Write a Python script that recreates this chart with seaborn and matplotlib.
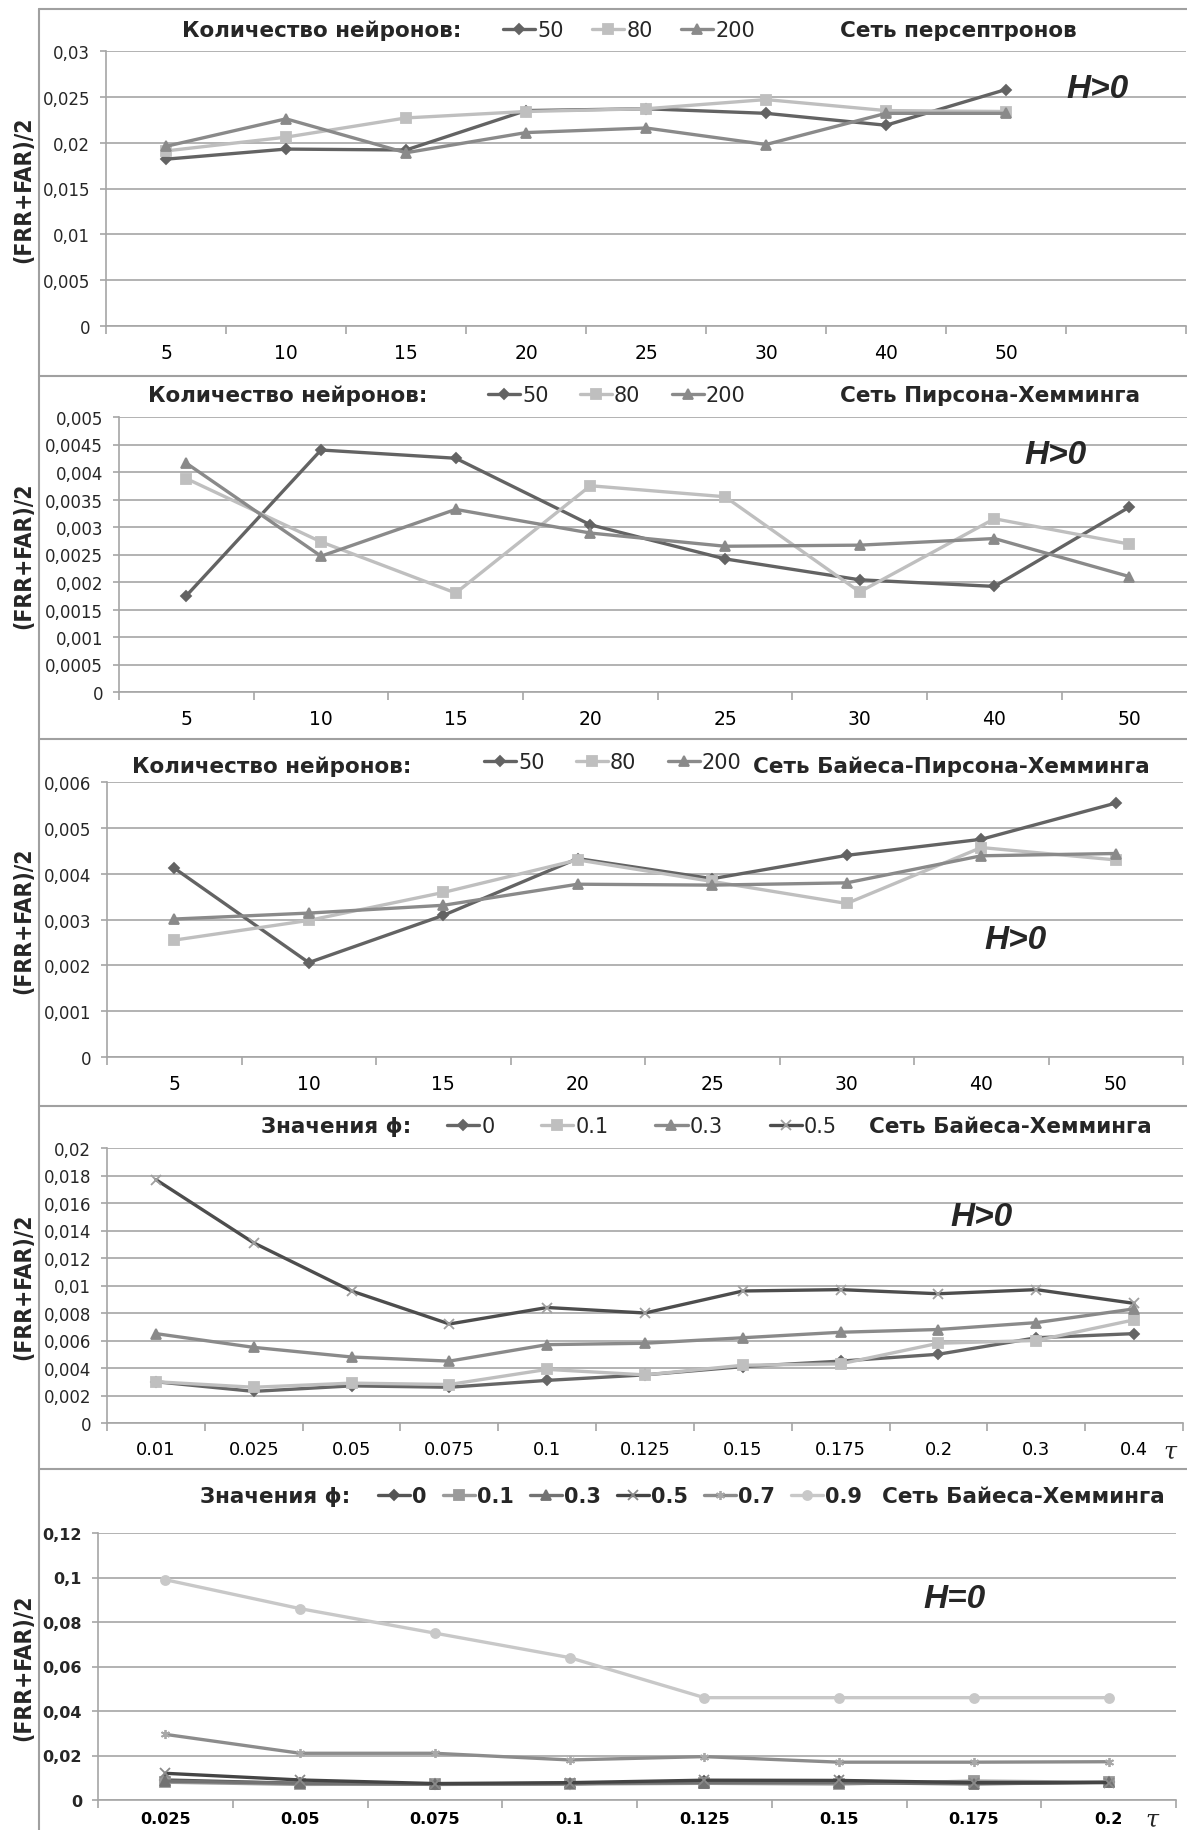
import numpy as np
import pandas as pd
import matplotlib
matplotlib.use("Agg")
import matplotlib.pyplot as plt
from matplotlib import font_manager
import seaborn as sns
from matplotlib.lines import Line2D
from matplotlib.ticker import FixedLocator

# ---------------- data ----------------
neurons = ["50", "80", "200"]
nn_cats = ["5", "10", "15", "20", "25", "30", "40", "50"]

perc_50 = [0.0182, 0.0193, 0.0192, 0.0235, 0.0237, 0.0232, 0.0219, 0.0258]
perc_80 = [0.0191, 0.0206, 0.0227, 0.0234, 0.0237, 0.0247, 0.0235, 0.0234]
perc_200 = [0.0196, 0.0226, 0.0189, 0.0211, 0.0216, 0.0198, 0.0232, 0.0232]

ph_50 = [0.00175, 0.0044, 0.00425, 0.00304, 0.00242, 0.00204, 0.00192, 0.00336]
ph_80 = [0.00388, 0.00273, 0.0018, 0.00375, 0.00355, 0.00182, 0.00315, 0.00269]
ph_200 = [0.00416, 0.00247, 0.00332, 0.00289, 0.00265, 0.00267, 0.00279, 0.0021]

bph_50 = [0.00412, 0.00206, 0.00309, 0.00433, 0.00389, 0.0044, 0.00475, 0.00554]
bph_80 = [0.00255, 0.00298, 0.00359, 0.0043, 0.00383, 0.00335, 0.00457, 0.0043]
bph_200 = [0.00301, 0.00314, 0.00331, 0.00377, 0.00375, 0.0038, 0.00439, 0.00444]

tau_h = ["0.01", "0.025", "0.05", "0.075", "0.1", "0.125", "0.15", "0.175", "0.2", "0.3", "0.4"]
phi_h = ["0", "0.1", "0.3", "0.5"]
bh_0 = [0.0030, 0.0023, 0.0027, 0.0026, 0.0031, 0.0035, 0.0041, 0.0045, 0.0050, 0.0062, 0.0065]
bh_01 = [0.0030, 0.0026, 0.0029, 0.0028, 0.0039, 0.0035, 0.0042, 0.0043, 0.0058, 0.0060, 0.0075]
bh_03 = [0.0065, 0.0055, 0.0048, 0.0045, 0.0057, 0.0058, 0.0062, 0.0066, 0.0068, 0.0073, 0.0083]
bh_05 = [0.0177, 0.0131, 0.0096, 0.0072, 0.0084, 0.0080, 0.0096, 0.0097, 0.0094, 0.0097, 0.0087]

tau_0 = ["0.025", "0.05", "0.075", "0.1", "0.125", "0.15", "0.175", "0.2"]
phi_0 = ["0", "0.1", "0.3", "0.5", "0.7", "0.9"]
b0_0 = [0.0090, 0.0075, 0.0070, 0.0072, 0.0085, 0.0085, 0.0075, 0.0080]
b0_01 = [0.0080, 0.0070, 0.0072, 0.0072, 0.0075, 0.0072, 0.0085, 0.0080]
b0_03 = [0.0085, 0.0075, 0.0072, 0.0075, 0.0078, 0.0078, 0.0072, 0.0080]
b0_05 = [0.0120, 0.0090, 0.0074, 0.0078, 0.0089, 0.0088, 0.0078, 0.0078]
b0_07 = [0.0295, 0.0210, 0.0210, 0.0180, 0.0195, 0.0170, 0.0170, 0.0172]
b0_09 = [0.0990, 0.0860, 0.0750, 0.0640, 0.0460, 0.0460, 0.0460, 0.0460]

# ---------------- style ----------------
W, H = 1187, 1831
sns.set_theme(style="white")
plt.rcParams["font.family"] = ["DejaVu Sans"]

# y-axis title: a condensed bold face if one is installed
YLAB_KW = {"family": "DejaVu Sans", "fontsize": 15}
_cond = [f for f in font_manager.fontManager.ttflist
         if f.name in ("Liberation Sans Narrow", "DejaVu Sans")
         and "ondensed" in f.fname and "Bold" in f.fname
         and "Oblique" not in f.fname]
_narrow = [f for f in font_manager.fontManager.ttflist
           if f.name == "Liberation Sans Narrow"]
if _narrow:
    YLAB_KW = {"family": "Liberation Sans Narrow", "fontsize": 20}
elif _cond:
    YLAB_KW = {"fontproperties": font_manager.FontProperties(
        fname=_cond[0].fname, size=16.5)}

fig = plt.figure(figsize=(W / 100, H / 100), dpi=100)
fig.patch.set_facecolor("white")

GRID = "#a6a6a6"


def px(x, y):
    return (x / W, 1 - y / H)


def rect(left, right, top, bottom):
    return [left / W, 1 - bottom / H, (right - left) / W, (bottom - top) / H]


def make_df(cats, series_names, series_vals):
    rows = []
    for name, vals in zip(series_names, series_vals):
        for i, v in enumerate(vals):
            rows.append({"pos": i, "cat": cats[i], "series": name, "val": v})
    return pd.DataFrame(rows)


def fmt(v):
    s = f"{np.round(v, 6):g}"
    return s.replace(".", ",")


def style_line(ln, name, markers, mec):
    c = ln.get_color()
    m = markers[name]
    ln.set_marker(m)
    ln.set_markersize(5.5 if m == "D" else 6.5)
    col = mec.get(name, c) if mec else c
    ln.set_markeredgecolor(col)
    ln.set_markerfacecolor(col)
    ln.set_markeredgewidth(1.3)
    ln.set_linewidth(2.4)


def panel(r, cats, names, vals, palette, markers, yticks, xlim,
          leg_anchor, leg_fs, leg_bold, header, header_x, hdr_y, net, net_x,
          hlabel, hpos, xfs, yfs, xbold=False, ybold=False, tau=None,
          colsp=1.4, mec=None, xpad=12):
    ax = fig.add_axes(rect(*r))
    df = make_df(cats, names, vals)
    sns.lineplot(data=df, x="pos", y="val", hue="series",
                 hue_order=names, palette=palette, sort=False, lw=2.4,
                 ax=ax, legend=True)
    for ln, name in zip(ax.lines, names):
        style_line(ln, name, markers, mec)
    ax.set_xlim(*xlim)
    ax.set_ylim(yticks[0], yticks[-1])
    ax.set_yticks(yticks)
    ax.set_yticklabels([fmt(v) for v in yticks], fontsize=yfs,
                       fontweight="bold" if ybold else "normal")
    ax.set_xticks(range(len(cats)))
    ax.set_xticklabels(cats, fontsize=xfs,
                       fontweight="bold" if xbold else "normal")
    ax.xaxis.set_minor_locator(FixedLocator(np.arange(-0.5, len(cats) + 1.5, 1)))
    ax.tick_params(axis="x", which="major", length=0, pad=xpad, colors="black")
    ax.tick_params(axis="x", which="minor", length=6, width=1.2,
                   color=GRID, direction="out", bottom=True)
    ax.tick_params(axis="y", which="major", length=4.5, width=1.2,
                   color=GRID, direction="out", pad=7, left=True)
    ax.set_xlabel("")
    ax.set_ylabel("")
    ax.yaxis.grid(True, color=GRID, lw=1.2)
    ax.xaxis.grid(False)
    for s in ["top", "right"]:
        ax.spines[s].set_visible(False)
    for s in ["left", "bottom"]:
        ax.spines[s].set_color(GRID)
        ax.spines[s].set_linewidth(1.2)
    ax.patch.set_alpha(0)

    # legend
    old = ax.get_legend()
    handles = old.legend_handles
    labels = [t.get_text() for t in old.get_texts()]
    old.remove()
    for hd, lab in zip(handles, labels):
        style_line(hd, lab, markers, mec)
    prop = {"size": leg_fs, "weight": "bold" if leg_bold else "normal"}
    ax.legend(handles, labels, loc="center left",
              bbox_to_anchor=px(*leg_anchor), bbox_transform=fig.transFigure,
              ncol=len(names), frameon=False, prop=prop, handlelength=1.54,
              handletextpad=0.1, columnspacing=colsp, borderpad=0,
              borderaxespad=0)

    fig.text(*px(header_x, hdr_y), header, ha="left", va="center",
             fontsize=15.5, fontweight="bold")
    fig.text(*px(net_x, hdr_y), net, ha="left", va="center",
             fontsize=15.5, fontweight="bold")
    fig.text(*px(*hpos), hlabel, ha="center", va="center", fontsize=24,
             fontweight="bold", fontstyle="italic", family="Liberation Sans")
    fig.text(*px(24, (r[2] + r[3]) / 2), "(FRR+FAR)/2", rotation=90,
             ha="center", va="center", fontweight="bold", **YLAB_KW)
    if tau:
        fig.text(*px(*tau), "τ", ha="center", va="center", fontsize=17,
                 fontstyle="italic", family="DejaVu Serif")
    return ax


pal_n = {"50": "#636363", "80": "#bfbfbf", "200": "#8a8a8a"}
mk_n = {"50": "D", "80": "s", "200": "^"}

# Panel 1
panel((106, 1186, 52, 327), nn_cats, neurons, [perc_50, perc_80, perc_200],
      pal_n, mk_n, [0, 0.005, 0.01, 0.015, 0.02, 0.025, 0.03], (-0.5, 8.5),
      (503, 31), 15, False, "Количество нейронов:", 182, 31,
      "Сеть персептронов", 840, "H>0", (1098, 90), 13.5, 12, colsp=1.37)

# Panel 2
panel((119, 1187, 418, 693), nn_cats, neurons, [ph_50, ph_80, ph_200],
      pal_n, mk_n, list(np.arange(0, 0.00501, 0.0005)), (-0.5, 7.43),
      (488, 396), 15, False, "Количество нейронов:", 148, 396,
      "Сеть Пирсона-Хемминга", 840, "H>0", (1056, 456), 13.5, 12, colsp=1.5)

# Panel 3
panel((107, 1183, 783, 1058), nn_cats, neurons, [bph_50, bph_80, bph_200],
      pal_n, mk_n, list(np.arange(0, 0.00601, 0.001)), (-0.5, 7.5),
      (484, 763), 15, False, "Количество нейронов:", 132, 767,
      "Сеть Байеса-Пирсона-Хемминга", 753, "H>0", (1016, 941), 13.5, 12,
      colsp=1.5)

# Panel 4
pal_h = {"0": "#666666", "0.1": "#bfbfbf", "0.3": "#8a8a8a", "0.5": "#4d4d4d"}
mk_h = {"0": "D", "0.1": "s", "0.3": "^", "0.5": "x"}
panel((107, 1183, 1149, 1424), tau_h, phi_h, [bh_0, bh_01, bh_03, bh_05],
      pal_h, mk_h, list(np.arange(0, 0.02001, 0.002)), (-0.5, 10.5),
      (447, 1127), 15, False, "Значения ϕ:", 261, 1127,
      "Сеть Байеса-Хемминга", 869, "H>0", (982, 1217), 12.8, 12,
      tau=(1170, 1452), mec={"0.5": "#a0a0a0"}, colsp=2.25)

# Panel 5
pal_0 = {"0": "#555555", "0.1": "#9a9a9a", "0.3": "#727272",
         "0.5": "#444444", "0.7": "#8c8c8c", "0.9": "#c8c8c8"}
mk_0 = {"0": "D", "0.1": "s", "0.3": "^", "0.5": "x", "0.7": (6, 2, 0),
        "0.9": "o"}
panel((98, 1176, 1534, 1801), tau_0, phi_0,
      [b0_0, b0_01, b0_03, b0_05, b0_07, b0_09],
      pal_0, mk_0, list(np.arange(0, 0.1201, 0.02)), (-0.5, 7.5),
      (378, 1497), 15, True, "Значения ϕ:", 200, 1497,
      "Сеть Байеса-Хемминга", 882, "H=0", (955, 1600), 11.5, 11.5,
      xbold=True, ybold=True, tau=(1152, 1820), colsp=0.77,
      mec={"0.5": "#8a8a8a", "0.7": "#a8a8a8"}, xpad=8)

# frame / separator lines
for yy in [10, 377, 740, 1107, 1470]:
    fig.add_artist(Line2D([39 / W, 1], [1 - yy / H, 1 - yy / H],
                          transform=fig.transFigure, color="#a0a0a0", lw=1.5))
fig.add_artist(Line2D([39 / W, 39 / W], [1 - 10 / H, 0],
                      transform=fig.transFigure, color="#a0a0a0", lw=1.5))

fig.savefig("out.png", dpi=100, facecolor="white")
